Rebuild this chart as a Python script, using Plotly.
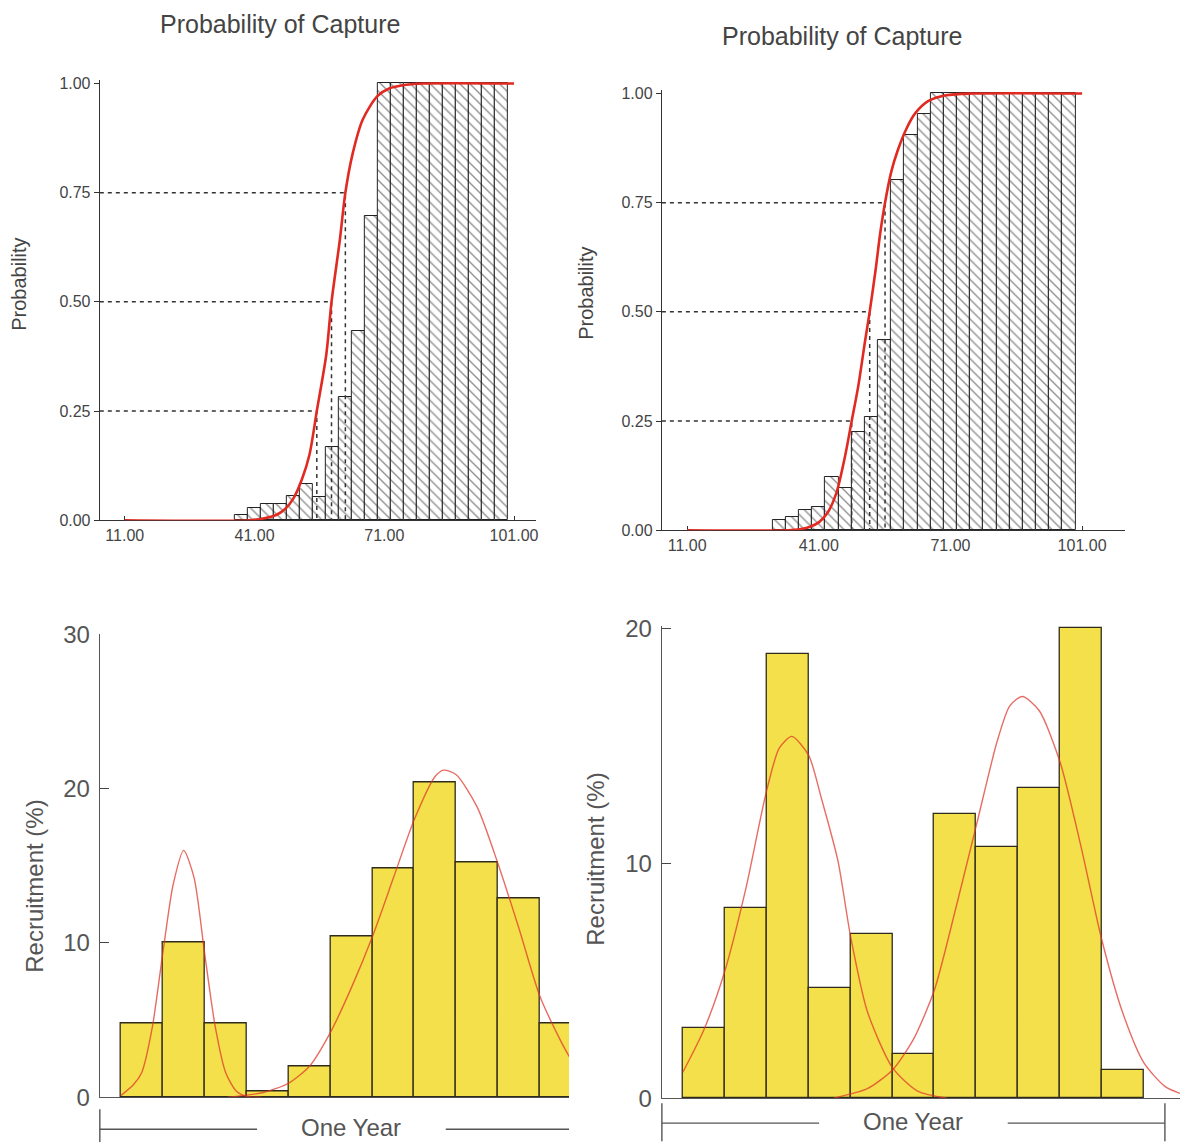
import plotly.graph_objects as go

W, H = 1182, 1142
FONT = "Liberation Sans, Arial, sans-serif"

# ---------------- data ----------------
# Top-left: probability of capture by length class (3-unit classes)
tl_len = [38, 41, 44, 47, 50, 53, 56, 59, 62, 65, 68, 71, 74, 77, 80, 83, 86, 89, 92, 95, 98]
tl_prob = [0.011, 0.027, 0.037, 0.037, 0.056, 0.082, 0.053, 0.167, 0.282, 0.434, 0.696,
           1, 1, 1, 1, 1, 1, 1, 1, 1, 1]
tl_curve_x = [11, 40, 43, 46, 48, 50, 52, 53.7, 55.4, 57.6, 58.8, 60.7, 62.0, 63.7, 66, 69.4, 72, 76, 80, 101]
tl_curve_y = [0, 0, 0.004, 0.012, 0.025, 0.05, 0.095, 0.15, 0.25, 0.38, 0.5, 0.64, 0.75, 0.84, 0.917,
              0.971, 0.988, 0.997, 1.0, 1.0]
tl_Lp = [55.4, 58.8, 62.0]
tl_P = [0.25, 0.50, 0.75]

# Top-right
tr_len = [32, 35, 38, 41, 44, 47, 50, 53, 56, 59, 62, 65, 68, 71, 74, 77, 80, 83, 86, 89, 92, 95, 98]
tr_prob = [0.023, 0.03, 0.046, 0.053, 0.122, 0.096, 0.225, 0.26, 0.436, 0.803, 0.906, 0.952,
           1, 1, 1, 1, 1, 1, 1, 1, 1, 1, 1]
tr_curve_x = [11, 34, 37, 39, 41, 43, 45, 47, 48.5, 50, 51.5, 52.6, 54, 55, 56.1, 57.5, 59, 61, 63, 66,
              70, 76, 101]
tr_curve_y = [0, 0, 0.003, 0.008, 0.018, 0.04, 0.085, 0.17, 0.25, 0.33, 0.43, 0.5, 0.6, 0.68, 0.75,
              0.82, 0.87, 0.92, 0.955, 0.983, 0.996, 1.0, 1.0]
tr_Lp = [48.5, 52.6, 56.1]
tr_P = [0.25, 0.50, 0.75]

len_ticks = [11, 41, 71, 101]
prob_ticks = [0, 0.25, 0.5, 0.75, 1.0]

# Bottom-left: recruitment (%) by period of the year
bl_period = [1, 2, 3, 4, 5, 6, 7, 8, 9, 10, 11]
bl_recr = [4.8, 10.0, 4.8, 0.35, 2.0, 10.4, 14.8, 20.4, 15.2, 12.9, 4.8]
bl_c1_x = [0.5, 0.8, 1.0, 1.25, 1.5, 1.75, 2.0, 2.25, 2.5, 2.75, 3.0, 3.25, 3.5, 3.85]
bl_c1_y = [0.1, 0.8, 1.6, 4.5, 9.3, 13.8, 16.0, 14.2, 9.3, 4.6, 1.6, 0.4, 0.05, 0]
bl_c2_x = [3.05, 3.9, 4.5, 5.0, 5.5, 6.0, 6.5, 7.0, 7.5, 8.0, 8.2, 8.5, 9.0, 9.5, 10.0, 10.5, 11.0, 11.2]
bl_c2_y = [0, 0.3, 0.9, 2.0, 4.2, 7.1, 10.4, 14.2, 18.0, 20.8, 21.2, 20.9, 18.8, 15.1, 10.9, 6.5, 3.6, 2.6]
bl_ticks = [0, 10, 20, 30]

# Bottom-right
br_period = [1, 2, 3, 4, 5, 6, 7, 8, 9, 10, 11]
br_recr = [3.0, 8.1, 18.9, 4.7, 7.0, 1.9, 12.1, 10.7, 13.2, 20.0, 1.2]
br_c1_x = [0.5, 1.0, 1.5, 2.0, 2.5, 2.8, 3.1, 3.5, 3.8, 4.2, 4.5, 4.9, 5.5, 6.1, 6.8]
br_c1_y = [1.1, 2.9, 5.4, 8.9, 13.1, 14.9, 15.4, 14.6, 12.8, 10.1, 6.9, 3.7, 1.3, 0.3, 0]
br_c2_x = [4.1, 4.9, 5.5, 6.0, 6.5, 7.0, 7.5, 8.0, 8.3, 8.6, 9.0, 9.5, 10.0, 10.5, 11.0, 11.5, 12.0, 12.36]
br_c2_y = [0, 0.4, 1.2, 2.5, 4.6, 8.0, 11.6, 15.2, 16.7, 17.1, 16.5, 14.3, 10.7, 6.7, 3.6, 1.5, 0.5, 0.2]
br_ticks = [0, 10, 20]

year_span = [0, 12]

# ---------------- layout helpers ----------------
def fx(p):
    return p / W


def fy(p):
    # target pixel row in the picture -> paper fraction
    actual = (p - 14.6) / 0.9748
    return 1 - actual / H


AX = {
    "tl": dict(xd=[fx(100), fx(537)], xr=[5.23, 106.1], yd=[fy(520), fy(80.5)], yr=[0, 1.008]),
    "tr": dict(xd=[fx(663), fx(1127)], xr=[5.25, 110.8], yd=[fy(530), fy(90.5)], yr=[0, 1.008]),
    "bl": dict(xd=[fx(100), fx(570)], xr=[0, 11.19], yd=[fy(1096), fy(634)], yr=[0, 30]),
    "br": dict(xd=[fx(663), 1.0], xr=[0, 12.36], yd=[fy(1097), fy(625.6)], yr=[0, 20.1]),
}
REFS = {"tl": ("x", "y"), "tr": ("x2", "y2"), "bl": ("x3", "y3"), "br": ("x4", "y4")}

fig = go.Figure()

RED = "#e02a22"
CURVE = "rgba(222,52,40,0.72)"
YEL = "#f4e04a"

# ---- top charts ----
for key, lens, probs, cx, cy, Lp, P in [
    ("tl", tl_len, tl_prob, tl_curve_x, tl_curve_y, tl_Lp, tl_P),
    ("tr", tr_len, tr_prob, tr_curve_x, tr_curve_y, tr_Lp, tr_P),
]:
    xa, ya = REFS[key]
    fig.add_trace(go.Bar(
        x=lens, y=probs, width=3, xaxis=xa, yaxis=ya,
        marker=dict(color="white", line=dict(color="#222222", width=1),
                    pattern=dict(shape="\\", fgcolor="#222222", bgcolor="white",
                                 size=7, solidity=0.2)),
        showlegend=False, hoverinfo="skip"))
    x0 = AX[key]["xr"][0]
    for L, p in zip(Lp, P):
        fig.add_trace(go.Scatter(
            x=[x0, L, L], y=[p, p, 0], mode="lines", xaxis=xa, yaxis=ya,
            line=dict(color="#333333", width=1.5, dash="4px,4px"),
            showlegend=False, hoverinfo="skip"))
    fig.add_trace(go.Scatter(
        x=cx, y=cy, mode="lines", xaxis=xa, yaxis=ya, cliponaxis=False,
        line=dict(color=RED, width=2.6, shape="spline", smoothing=0.8),
        showlegend=False, hoverinfo="skip"))

# ---- bottom charts ----
for key, per, rec, curves in [
    ("bl", bl_period, bl_recr, [(bl_c1_x, bl_c1_y), (bl_c2_x, bl_c2_y)]),
    ("br", br_period, br_recr, [(br_c1_x, br_c1_y), (br_c2_x, br_c2_y)]),
]:
    xa, ya = REFS[key]
    fig.add_trace(go.Bar(
        x=per, y=rec, width=1, xaxis=xa, yaxis=ya,
        marker=dict(color=YEL, line=dict(color="#2e2b1c", width=1.3)),
        showlegend=False, hoverinfo="skip"))
    for cx, cy in curves:
        fig.add_trace(go.Scatter(
            x=cx, y=cy, mode="lines", xaxis=xa, yaxis=ya,
            line=dict(color=CURVE, width=1.4, shape="spline", smoothing=0.7),
            showlegend=False, hoverinfo="skip"))

# ---------------- axes ----------------
lay = dict(width=W, height=H, margin=dict(l=0, r=0, t=0, b=0),
           paper_bgcolor="white", plot_bgcolor="white",
           font=dict(family=FONT, color="#444444"), bargap=0)

names = {"tl": ("xaxis", "yaxis"), "tr": ("xaxis2", "yaxis2"),
         "bl": ("xaxis3", "yaxis3"), "br": ("xaxis4", "yaxis4")}

for key in ["tl", "tr"]:
    xn, yn = names[key]
    xa, ya = REFS[key]
    a = AX[key]
    lay[xn] = dict(domain=a["xd"], range=a["xr"], anchor=ya, showgrid=False, zeroline=False,
                   showline=True, linecolor="#333333", linewidth=1.2,
                   tickmode="array", tickvals=len_ticks,
                   ticktext=[f"{v:.2f}" for v in len_ticks],
                   ticks="inside", ticklen=4, tickcolor="#333333",
                   tickfont=dict(size=16, color="#444444"), layer="below traces")
    lay[yn] = dict(domain=a["yd"], range=a["yr"], anchor=xa, showgrid=False, zeroline=False,
                   showline=True, linecolor="#333333", linewidth=1.2,
                   tickmode="array", tickvals=prob_ticks,
                   ticktext=[f"{v:.2f}" for v in prob_ticks],
                   ticks="outside", ticklen=5, tickcolor="#333333",
                   tickfont=dict(size=16, color="#444444"))

for key, tv in [("bl", bl_ticks), ("br", br_ticks)]:
    xn, yn = names[key]
    xa, ya = REFS[key]
    a = AX[key]
    lay[xn] = dict(domain=a["xd"], range=a["xr"], anchor=ya, showgrid=False, zeroline=False,
                   showline=True, linecolor="#555555", linewidth=1.3,
                   showticklabels=False, ticks="", layer="below traces")
    lay[yn] = dict(domain=a["yd"], range=a["yr"], anchor=xa, showgrid=False, zeroline=False,
                   showline=True, linecolor="#555555", linewidth=1.3,
                   tickmode="array", tickvals=tv, ticks="inside", ticklen=9,
                   tickcolor="#444444", tickwidth=1.3,
                   tickfont=dict(size=24, color="#555555"), ticklabelstandoff=4)

fig.update_layout(**lay)

# ---------------- annotations ----------------
def label(text, x, y, size, color="#444444", angle=0):
    return dict(text=text, x=fx(x), y=fy(y), xref="paper", yref="paper",
                xanchor="center", yanchor="middle", showarrow=False, textangle=angle,
                font=dict(size=size, color=color))


ann = [
    label("Probability of Capture", 280, 25, 25),
    label("Probability of Capture", 843, 37, 25),
    label("Probability", 19, 284, 20, angle=-90),
    label("Probability", 587, 294, 20, angle=-90),
    label("Recruitment (%)", 35, 885, 24, "#555555", -90),
    label("Recruitment (%)", 597, 858, 24, "#555555", -90),
]

shapes = []


def to_paper(key, xv):
    a = AX[key]
    d0, d1 = a["xd"]
    r0, r1 = a["xr"]
    return d0 + (xv - r0) / (r1 - r0) * (d1 - d0)


for key, ypx, right_tick in [("bl", 1128, False), ("br", 1122, True)]:
    a = AX[key]
    y0 = year_span[0]
    y1 = min(year_span[1], a["xr"][1])
    mid = (year_span[0] + year_span[1]) / 2
    gap = 2.25
    lc = dict(color="#555555", width=1.4)
    shapes.append(dict(type="line", xref="paper", yref="paper",
                       x0=to_paper(key, y0), x1=to_paper(key, mid - gap),
                       y0=fy(ypx), y1=fy(ypx), line=lc))
    shapes.append(dict(type="line", xref="paper", yref="paper",
                       x0=to_paper(key, mid + gap), x1=to_paper(key, y1),
                       y0=fy(ypx), y1=fy(ypx), line=lc))
    shapes.append(dict(type="line", xref="paper", yref="paper",
                       x0=to_paper(key, y0), x1=to_paper(key, y0),
                       y0=fy(ypx - 20), y1=fy(ypx + 18), line=lc))
    if right_tick:
        shapes.append(dict(type="line", xref="paper", yref="paper",
                           x0=to_paper(key, y1), x1=to_paper(key, y1),
                           y0=fy(ypx - 20), y1=fy(ypx + 18), line=lc))
    ann.append(dict(text="One Year", x=to_paper(key, mid), y=fy(ypx - 2), xref="paper",
                    yref="paper", xanchor="center", yanchor="middle", showarrow=False,
                    font=dict(size=24, color="#555555")))

fig.update_layout(annotations=ann, shapes=shapes)

fig.write_html("out.html", config={"displayModeBar": False},
               post_script="document.body.style.margin='0';")
